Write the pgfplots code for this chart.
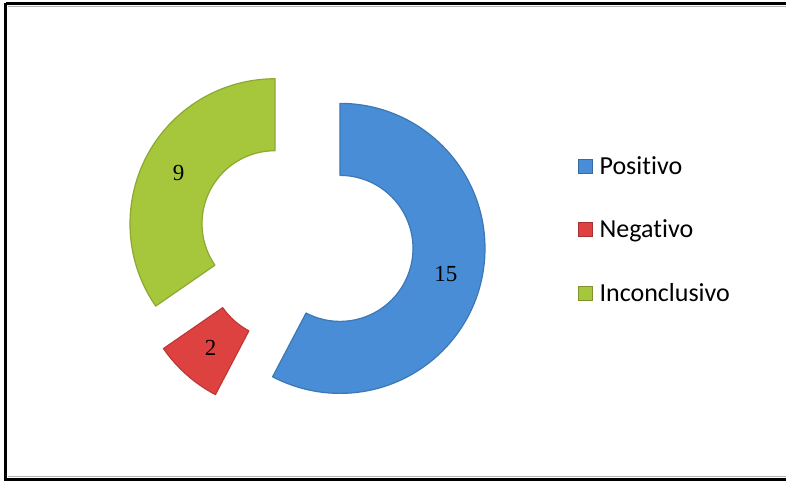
\documentclass[border=0pt]{standalone}
\usepackage{pgfplots}
\pgfplotsset{compat=1.18}
\usepackage{pgfplotstable}
\usepackage{fontspec}
\setmainfont[RawFeature=-liga]{Carlito}
\newfontfamily\numfont{Liberation Serif}

\definecolor{cpos}{RGB}{72,141,214}
\definecolor{cneg}{RGB}{222,66,64}
\definecolor{cinc}{RGB}{166,198,60}

\pgfplotstableread{
label value
Positivo 15
Negativo 2
Inconclusivo 9
}\datatable

% geometry (in px of the reference image, y measured upward)
\def\CX{306}\def\CY{242}\def\Rout{145}\def\Rin{73}\def\Expl{35}

\newcommand\drawwedge[2]{% #1 = row index, #2 = colour
 \pgfplotsextra{%
  \edef\sa{\csname sa#1\endcsname}%
  \edef\ea{\csname ea#1\endcsname}%
  \edef\ma{\csname ma#1\endcsname}%
  \edef\cx{\csname cx#1\endcsname}%
  \edef\cy{\csname cy#1\endcsname}%
  \edef\vv{\csname val#1\endcsname}%
  \path[fill=#2, draw=#2!85!black, line width=1.2pt, line join=round]
    (axis cs:{\cx+\Rout*cos(\sa)},{\cy+\Rout*sin(\sa)})
    arc[start angle=\sa, end angle=\ea, radius=\Rout pt]
    -- (axis cs:{\cx+\Rin*cos(\ea)},{\cy+\Rin*sin(\ea)})
    arc[start angle=\ea, end angle=\sa, radius=\Rin pt] -- cycle;
  \node[font=\numfont\fontsize{23}{26}\selectfont, text=black]
    at (axis cs:{\cx+(\Rout+\Rin)/2*cos(\ma)},{\cy+(\Rout+\Rin)/2*sin(\ma)})
    {\vv};
 }%
}

\begin{document}
% cumulative angles from the data
\gdef\total{0}%
\foreach \i in {0,1,2}{%
  \pgfplotstablegetelem{\i}{value}\of\datatable
  \pgfmathsetmacro\tmp{\total+\pgfplotsretval}%
  \global\let\total\tmp
}%
\gdef\cum{0}%
\foreach \i in {0,1,2}{%
  \pgfplotstablegetelem{\i}{value}\of\datatable
  \let\v\pgfplotsretval
  \pgfmathsetmacro\sa{90-\cum*360/\total}%
  \pgfmathsetmacro\ea{90-(\cum+\v)*360/\total}%
  \pgfmathsetmacro\ma{(\sa+\ea)/2}%
  \pgfmathsetmacro\cx{\CX+\Expl*cos(\ma)}%
  \pgfmathsetmacro\cy{\CY+\Expl*sin(\ma)}%
  \expandafter\xdef\csname sa\i\endcsname{\sa}%
  \expandafter\xdef\csname ea\i\endcsname{\ea}%
  \expandafter\xdef\csname ma\i\endcsname{\ma}%
  \expandafter\xdef\csname cx\i\endcsname{\cx}%
  \expandafter\xdef\csname cy\i\endcsname{\cy}%
  \expandafter\xdef\csname val\i\endcsname{\v}%
  \pgfmathsetmacro\tmp{\cum+\v}%
  \global\let\cum\tmp
}%
\begin{tikzpicture}
\begin{axis}[
  x=1pt, y=1pt, xmin=0, xmax=786, ymin=0, ymax=482,
  hide axis, clip=false,
  legend image code/.code={\draw[#1] (0pt,-7pt) rectangle (14pt,7pt);},
  legend style={at={(axis cs:578,328)}, anchor=north west, draw=none, fill=none,
    inner sep=0pt, row sep=40pt, column sep=5pt,
    font=\fontsize{26}{30}\selectfont,
    nodes={inner sep=2pt}},
  legend cell align=left,
]
\addlegendimage{fill=cpos, draw=cpos!75!black}
\addlegendentry{Positivo}
\addlegendimage{fill=cneg, draw=cneg!75!black}
\addlegendentry{Negativo}
\addlegendimage{fill=cinc, draw=cinc!75!black}
\addlegendentry{Inconclusivo}

\drawwedge{0}{cpos}
\drawwedge{1}{cneg}
\drawwedge{2}{cinc}

% outer frame
\draw[black, line width=3pt] (axis cs:5.5,478.5) -- (axis cs:5.5,3) -- (axis cs:800,3);
\draw[black, line width=3pt] (axis cs:5.5,478.5) -- (axis cs:800,478.5);
\draw[gray!60, line width=0.8pt] (axis cs:8,475.5) -- (axis cs:800,475.5);
\draw[gray!60, line width=0.8pt] (axis cs:8,6) -- (axis cs:800,6);
\end{axis}
\pgfresetboundingbox
\useasboundingbox (0,0) rectangle (786pt,482pt);
\end{tikzpicture}
\end{document}
